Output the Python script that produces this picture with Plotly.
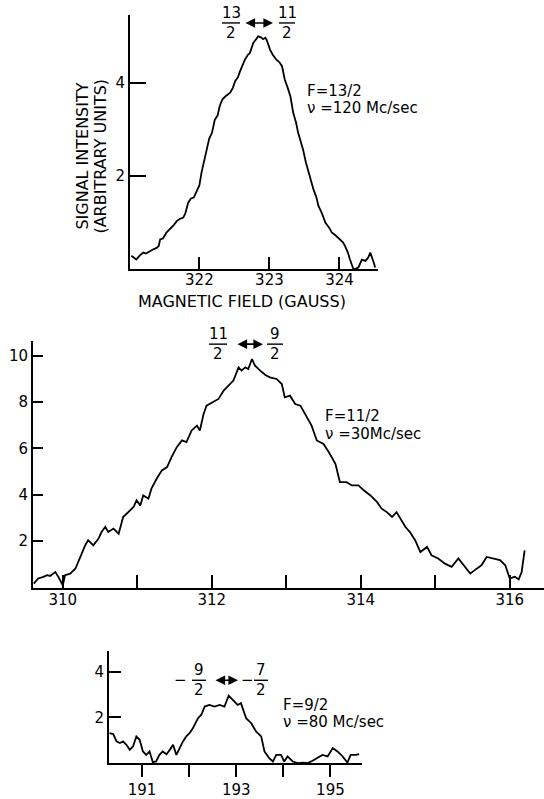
import plotly.graph_objects as go

# ---------------- data ----------------
# Panel 1: F = 13/2, nu = 120 Mc/sec
field_1 = [321.03, 321.07, 321.1, 321.15, 321.2, 321.24, 321.29, 321.33, 321.39, 321.42, 321.44, 321.48,
           321.53, 321.57, 321.6, 321.64, 321.68, 321.72, 321.77, 321.8, 321.84, 321.88, 321.92, 321.96,
           322.0, 322.03, 322.07, 322.1, 322.14, 322.18, 322.22, 322.26, 322.29, 322.33, 322.37, 322.44,
           322.48, 322.51, 322.55, 322.58, 322.62, 322.65, 322.69, 322.72, 322.77, 322.81, 322.84, 322.88,
           322.91, 322.94, 322.96, 323.01, 323.05, 323.1, 323.14, 323.18, 323.22, 323.26, 323.3, 323.34,
           323.38, 323.41, 323.45, 323.48, 323.52, 323.56, 323.6, 323.63, 323.67, 323.7, 323.75, 323.8,
           323.85, 323.89, 323.95, 324.01, 324.05, 324.08, 324.12, 324.15, 324.2, 324.24, 324.27, 324.32,
           324.37, 324.41, 324.44, 324.49, 324.51]
signal_1 = [0.29, 0.25, 0.21, 0.3, 0.36, 0.34, 0.39, 0.42, 0.46, 0.5, 0.64, 0.66,
            0.79, 0.85, 0.89, 0.96, 1.04, 1.08, 1.11, 1.2, 1.43, 1.52, 1.54, 1.68,
            1.8, 2.07, 2.33, 2.57, 2.8, 2.93, 3.21, 3.3, 3.5, 3.65, 3.71, 3.79,
            3.9, 4.04, 4.12, 4.25, 4.4, 4.5, 4.6, 4.64, 4.86, 4.95, 5.0, 4.98,
            4.94, 4.97, 4.93, 4.71, 4.6, 4.5, 4.45, 4.36, 4.07, 3.9, 3.71, 3.36,
            3.15, 2.93, 2.75, 2.57, 2.3, 2.07, 1.85, 1.71, 1.55, 1.36, 1.2, 1.0,
            0.9, 0.79, 0.72, 0.64, 0.58, 0.5, 0.36, 0.21, 0.0, 0.02, 0.04, 0.21,
            0.18, 0.25, 0.36, 0.14, 0.04]

# Panel 2: F = 11/2, nu = 30 Mc/sec
field_2 = [309.61, 309.67, 309.74, 309.79, 309.83, 309.9, 309.94, 310.0, 310.03, 310.1, 310.17, 310.23,
           310.3, 310.34, 310.41, 310.48, 310.52, 310.57, 310.61, 310.68, 310.75, 310.81, 310.88, 310.95,
           310.99, 311.04, 311.08, 311.15, 311.19, 311.26, 311.33, 311.4, 311.46, 311.53, 311.6, 311.66,
           311.73, 311.8, 311.84, 311.89, 311.93, 312.02, 312.09, 312.16, 312.22, 312.29, 312.36, 312.4,
           312.45, 312.49, 312.54, 312.58, 312.65, 312.72, 312.78, 312.87, 312.94, 312.98, 313.05, 313.12,
           313.19, 313.25, 313.34, 313.41, 313.5, 313.57, 313.66, 313.72, 313.81, 313.88, 313.97, 314.04,
           314.13, 314.22, 314.28, 314.35, 314.42, 314.48, 314.53, 314.6, 314.66, 314.73, 314.8, 314.89,
           314.95, 315.04, 315.13, 315.22, 315.31, 315.38, 315.47, 315.53, 315.62, 315.69, 315.78, 315.87,
           315.94, 316.0, 316.07, 316.12, 316.16, 316.2]
signal_2 = [0.17, 0.39, 0.46, 0.53, 0.5, 0.67, 0.46, 0.1, 0.53, 0.6, 0.82, 1.32,
            1.82, 2.04, 1.82, 2.11, 2.39, 2.61, 2.39, 2.54, 2.32, 3.04, 3.25, 3.47,
            3.76, 3.54, 3.97, 3.83, 4.26, 4.69, 5.05, 5.19, 5.62, 6.05, 6.34, 6.27,
            6.77, 6.98, 6.77, 7.48, 7.84, 7.99, 8.13, 8.49, 8.7, 8.92, 9.49, 9.35,
            9.49, 9.42, 9.85, 9.56, 9.35, 9.16, 9.06, 8.99, 8.77, 8.2, 8.27, 7.91,
            7.84, 7.48, 6.98, 6.34, 6.19, 5.84, 5.33, 4.54, 4.54, 4.4, 4.4, 4.19,
            3.97, 3.68, 3.4, 3.25, 3.04, 3.25, 2.97, 2.61, 2.39, 2.04, 1.53, 1.75,
            1.39, 1.25, 1.03, 0.89, 1.25, 0.96, 0.6, 0.75, 0.96, 1.32, 1.25, 1.18,
            0.96, 0.39, 0.46, 0.35, 0.67, 1.6]

# Panel 3: F = 9/2, nu = 80 Mc/sec
field_3 = [190.31, 190.39, 190.46, 190.53, 190.6, 190.67, 190.74, 190.81, 190.88, 190.95, 191.02, 191.09,
           191.16, 191.23, 191.3, 191.37, 191.44, 191.52, 191.59, 191.66, 191.73, 191.8, 191.87, 191.94,
           192.01, 192.08, 192.19, 192.26, 192.33, 192.43, 192.54, 192.65, 192.75, 192.84, 192.93, 193.03,
           193.1, 193.21, 193.32, 193.42, 193.53, 193.6, 193.7, 193.78, 193.85, 193.95, 194.02, 194.09,
           194.2, 194.31, 194.41, 194.52, 194.62, 194.73, 194.83, 194.94, 195.05, 195.15, 195.26, 195.36,
           195.43, 195.54, 195.61]
signal_3 = [1.31, 1.27, 0.95, 0.88, 0.95, 0.8, 0.58, 0.73, 1.17, 1.02, 0.51, 0.36,
            0.51, 0.04, 0.07, 0.36, 0.51, 0.39, 0.58, 0.8, 0.36, 0.66, 0.95, 1.17,
            1.31, 1.53, 1.97, 2.12, 2.48, 2.55, 2.48, 2.55, 2.48, 2.96, 2.77, 2.55,
            2.63, 1.97, 1.75, 1.39, 1.17, 0.51, 0.22, 0.07, 0.36, 0.36, 0.07, 0.29,
            0.07, 0.0, 0.02, 0.0, 0.1, 0.22, 0.36, 0.29, 0.66, 0.51, 0.29, 0.02,
            0.36, 0.36, 0.39]

ticks_x1 = [322, 323, 324]
ticks_y1 = [2, 4]
ticks_x2 = [310, 311, 312, 313, 314, 315, 316]
labels_x2 = ["310", "", "312", "", "314", "", "316"]
ticks_y2 = [2, 4, 6, 8, 10]
ticks_x3 = [191, 192, 193, 194, 195]
labels_x3 = ["191", "", "193", "", "195"]
ticks_y3 = [2, 4]

# ---------------- figure ----------------
W, H = 544, 799
FONT = "DejaVu Sans"


def px(x):
    return x / W


def py(y):
    return 1 - y / H


fig = go.Figure()
line = dict(color="black", width=1.8)
fig.add_trace(go.Scatter(x=field_1, y=signal_1, mode="lines", line=line, xaxis="x", yaxis="y"))
fig.add_trace(go.Scatter(x=field_2, y=signal_2, mode="lines", line=line, xaxis="x2", yaxis="y2"))
fig.add_trace(go.Scatter(x=field_3, y=signal_3, mode="lines", line=line, xaxis="x3", yaxis="y3"))

axcommon = dict(showline=True, linecolor="black", linewidth=1.8, showgrid=False, zeroline=False,
                tickcolor="black", tickwidth=1.8, tickfont=dict(family=FONT, size=15, color="black"),
                fixedrange=True)

fig.update_layout(
    width=W, height=H, margin=dict(l=0, r=0, t=0, b=0),
    paper_bgcolor="white", plot_bgcolor="white", showlegend=False,
    xaxis=dict(domain=[px(130), px(378)], range=[321.01, 324.55], anchor="y",
               tickvals=ticks_x1, ticks="inside", ticklen=12, ticklabelstandoff=-4, **axcommon),
    yaxis=dict(domain=[py(270), py(15)], range=[0, 5.46], anchor="x",
               tickvals=ticks_y1, ticks="inside", ticklen=16, **axcommon),
    xaxis2=dict(domain=[px(33), px(544)], range=[309.6, 316.46], anchor="y2",
                tickvals=ticks_x2, ticktext=labels_x2, ticks="inside", ticklen=13,
                ticklabelstandoff=-2, **axcommon),
    yaxis2=dict(domain=[py(589), py(342)], range=[0, 10.62], anchor="x2",
                tickvals=ticks_y2, ticks="inside", ticklen=10, **axcommon),
    xaxis3=dict(domain=[px(109), px(362)], range=[190.3, 195.67], anchor="y3",
                tickvals=ticks_x3, ticktext=labels_x3, ticks="outside", ticklen=12, **axcommon),
    yaxis3=dict(domain=[py(765), py(653)], range=[0, 4.9], anchor="x3",
                tickvals=ticks_y3, ticks="inside", ticklen=12, **axcommon),
)


def text(x, y, s, xanchor="center", size=14, angle=0):
    fig.add_annotation(x=px(x), y=py(y), xref="paper", yref="paper", text=s, showarrow=False,
                       xanchor=xanchor, yanchor="middle", textangle=angle,
                       font=dict(family=FONT, size=size, color="black"))


def frac(cx, ybar, num, den, half=8):
    text(cx, ybar - 10, num, size=15)
    text(cx, ybar + 10, den, size=15)
    fig.add_shape(type="line", xref="paper", yref="paper", x0=px(cx - half), x1=px(cx + half),
                  y0=py(ybar), y1=py(ybar), line=dict(color="black", width=1.4))


def arrow(x0, x1, y):
    fig.add_annotation(x=px(x1), y=py(y), xref="paper", yref="paper", ax=-(x1 - x0), ay=0,
                       axref="pixel", ayref="pixel", text="", showarrow=True,
                       arrowhead=2, arrowside="end+start", arrowsize=1.2, arrowwidth=1.6,
                       arrowcolor="black", standoff=0, startstandoff=0)


# Panel 1 labels
frac(231, 23, "13", "2", 9)
arrow(244, 273, 23)
frac(287, 23, "11", "2", 8)
text(305, 91, "F=13/2", "left", 15)
text(305, 108, "ν =120 Mc/sec", "left", 15)
text(83, 157, "SIGNAL INTENSITY", size=16, angle=-90)
text(101, 157, "(ARBITRARY UNITS)", size=16, angle=-90)
text(242, 302, "MAGNETIC FIELD (GAUSS)", size=16)

# Panel 2 labels
frac(218, 345, "11", "2", 9)
arrow(236, 263, 345)
frac(275, 345, "9", "2", 8)
text(323, 417, "F=11/2", "left", 15)
text(323, 435, "ν =30Mc/sec", "left", 15)

# Panel 3 labels
text(180, 682, "−", size=15)
frac(199, 682, "9", "2", 7)
arrow(214, 238, 682)
text(247, 682, "−", size=15)
frac(261, 682, "7", "2", 7)
text(281, 707, "F=9/2", "left", 15)
text(281, 724, "ν =80 Mc/sec", "left", 15)

fig.write_html("out.html", config={"displayModeBar": False},
               post_script="document.body.style.margin='0';document.body.style.overflow='hidden';")
